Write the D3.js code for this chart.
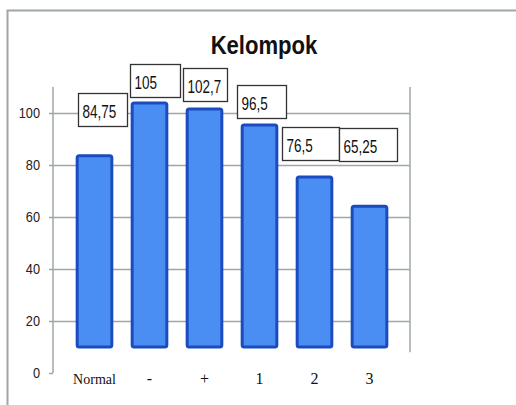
<!DOCTYPE html>
<html>
<head>
<meta charset="utf-8">
<script src="https://cdn.jsdelivr.net/npm/d3@7"></script>
<style>
  body { margin: 0; background: #fff; }
  svg { display: block; }
</style>
</head>
<body>
<div id="chart"></div>
<script>
// data
const categories = ['Normal', '-', '+', '1', '2', '3']
const values = [84.75, 105, 102.7, 96.5, 76.5, 65.25]
const valueLabels = ['84,75', '105', '102,7', '96,5', '76,5', '65,25']
const yTicks = [0, 20, 40, 60, 80, 100]
const title = 'Kelompok'

// bars in the source start a bit above zero
const barBase = 10

const width = 516
const height = 405
const sans = '"Liberation Sans", Arial, sans-serif'
const gridColor = '#9ea8a6'

// label boxes were dragged by hand: [dx from bar left, dy from bar top, box width]
const labelNudge = [[1, -60, 49], [-2, -36, 50], [-4, -38, 44], [-5, -37, 49], [-15, -47, 57], [-13, -75, 58]]

// source text is horizontally squeezed, fake it with a scale
function squeeze (sel, sx) {
  sel.attr('transform', function () {
    const t = d3.select(this)
    const tx = +t.attr('data-x')
    const ty = +t.attr('data-y')
    return `translate(${tx},${ty}) scale(${sx},1)`
  })
}

const svg = d3.select('#chart')
  .append('svg')
  .attr('width', width)
  .attr('height', height)

// outer frame (left + top)
svg.append('path')
  .attr('d', `M7.5,${height} V10.5 H${width}`)
  .attr('fill', 'none')
  .style('stroke', gridColor)
  .style('stroke-width', 2)

svg.append('text')
  .attr('data-x', 264)
  .attr('data-y', 54)
  .attr('text-anchor', 'middle')
  .attr('font-family', sans)
  .attr('font-weight', 'bold')
  .attr('font-size', '26px')
  .attr('fill', '#111')
  .text(title)
  .call(squeeze, 0.85)

const x = d3.scaleBand()
  .domain(categories)
  .range([67, 397])
  .paddingInner(0.37)
  .paddingOuter(0.185)

const y = d3.scaleLinear()
  .domain([0, 100])
  .range([373, 113])

const plotLeft = 53
const plotRight = 410

// gridlines (no line at zero, just the tick)
svg.append('g')
  .selectAll('line')
  .data(yTicks)
  .enter()
  .append('line')
  .attr('x1', plotLeft - 4)
  .attr('x2', function (d) { return d === 0 ? plotLeft : plotRight })
  .attr('y1', function (d) { return Math.round(y(d)) + 0.5 })
  .attr('y2', function (d) { return Math.round(y(d)) + 0.5 })
  .style('stroke', gridColor)
  .style('stroke-width', 1.5)

// y axis and right border
svg.append('line')
  .attr('x1', plotLeft).attr('x2', plotLeft)
  .attr('y1', y(110)).attr('y2', y(0))
  .style('stroke', gridColor)
  .style('stroke-width', 1.5)
svg.append('line')
  .attr('x1', plotRight).attr('x2', plotRight)
  .attr('y1', y(110)).attr('y2', y(8))
  .style('stroke', gridColor)
  .style('stroke-width', 1.5)

svg.append('g')
  .selectAll('text')
  .data(yTicks)
  .enter()
  .append('text')
  .attr('data-x', plotLeft - 13)
  .attr('data-y', function (d) { return y(d) + 5 })
  .attr('text-anchor', 'end')
  .attr('font-family', sans)
  .attr('font-size', '15px')
  .attr('fill', '#222')
  .text(function (d) { return d })
  .call(squeeze, 0.85)

// bars
svg.append('g')
  .selectAll('rect')
  .data(values)
  .enter()
  .append('rect')
  .attr('x', function (d, i) { return x(categories[i]) })
  .attr('y', function (d) { return y(d) + 3 })
  .attr('width', x.bandwidth())
  .attr('height', function (d) { return y(barBase) - y(d) - 3 })
  .attr('rx', 2)
  .style('fill', '#4a8ef4')
  .style('stroke', '#1a4cbf')
  .style('stroke-width', 3)

// category labels
svg.append('g')
  .selectAll('text')
  .data(categories)
  .enter()
  .append('text')
  .attr('x', function (d) { return x(d) + x.bandwidth() / 2 })
  .attr('y', 384)
  .attr('text-anchor', 'middle')
  .attr('font-family', '"Liberation Serif", "Times New Roman", serif')
  .attr('font-size', function (d) { return d === 'Normal' ? '14px' : '16px' })
  .attr('fill', '#111')
  .text(function (d) { return d })

// value label boxes
const labels = svg.append('g')
  .selectAll('g')
  .data(values)
  .enter()
  .append('g')
  .attr('transform', function (d, i) {
    const n = labelNudge[i]
    return `translate(${Math.round(x(categories[i]) + n[0]) + 0.5},${Math.round(y(d) + n[1]) + 0.5})`
  })

labels.append('rect')
  .attr('width', function (d, i) { return labelNudge[i][2] })
  .attr('height', 33)
  .style('fill', '#fff')
  .style('stroke', '#333')
  .style('stroke-width', 1.3)

labels.append('text')
  .attr('data-x', 4)
  .attr('data-y', 24)
  .attr('font-family', sans)
  .attr('font-size', '18px')
  .attr('fill', '#111')
  .text(function (d, i) { return valueLabels[i] })
  .call(squeeze, 0.75)
</script>
</body>
</html>
